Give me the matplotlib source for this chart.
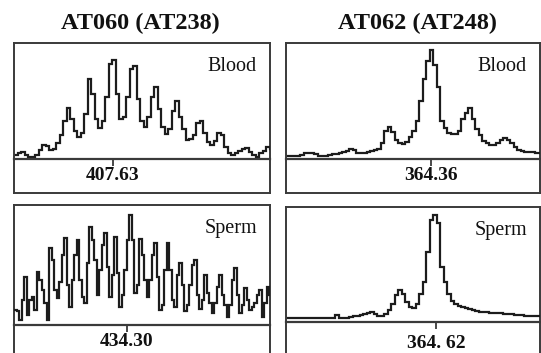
import numpy as np
import matplotlib
matplotlib.use("Agg")
import matplotlib.pyplot as plt

# ---------------- data (trace heights) ----------------
titles = ["AT060 (AT238)", "AT062 (AT248)"]
tissues = ["Blood", "Blood", "Sperm", "Sperm"]
size_labels = ["407.63", "364.36", "434.30", "364. 62"]

at060_blood = [4, 6, 7, 4, 2, 2, 4, 9, 14, 13, 9, 10, 16, 24, 38, 51, 40, 28, 22, 26,
               45, 80, 65, 40, 31, 38, 62, 95, 99, 65, 40, 42, 62, 90, 93, 60, 38, 32,
               42, 62, 72, 50, 32, 25, 30, 48, 58, 42, 30, 19, 20, 24, 36, 38, 26, 17,
               14, 18, 26, 24, 12, 6, 4, 6, 8, 10, 11, 7, 4, 2, 6, 8, 12, 10]

at062_blood = [3, 3, 3, 3, 4, 6, 6, 6, 5, 3, 3, 3, 4, 5, 5, 6, 7, 8, 10, 9, 6, 6, 6,
               7, 8, 9, 10, 16, 28, 32, 27, 19, 16, 15, 17, 22, 28, 38, 58, 80, 98, 109,
               94, 72, 38, 31, 26, 25, 25, 28, 40, 46, 51, 40, 30, 24, 18, 16, 14, 14,
               16, 19, 21, 19, 16, 12, 9, 8, 7, 7, 7, 6, 6]

at060_sperm = [15, 14, 5, 25, 48, 10, 25, 28, 15, 53, 45, 35, 22, 5, 77, 65, 35, 27,
               43, 70, 87, 40, 18, 45, 70, 85, 45, 28, 22, 62, 98, 85, 65, 30, 55, 80,
               92, 58, 28, 50, 88, 52, 18, 30, 55, 85, 110, 85, 32, 40, 86, 70, 45, 28,
               45, 70, 82, 48, 15, 20, 55, 82, 55, 25, 18, 50, 62, 40, 14, 20, 40, 60,
               65, 30, 16, 25, 50, 32, 22, 12, 22, 38, 50, 30, 20, 8, 20, 45, 57, 30,
               12, 20, 37, 25, 15, 18, 22, 30, 35, 8, 22, 38, 30]

at062_sperm = [4, 4, 4, 4, 4, 4, 4, 4, 4, 4, 4, 4, 4, 4, 7, 4, 4, 4, 5, 6, 6, 7, 8, 9,
               10, 8, 6, 6, 8, 12, 18, 27, 32, 28, 20, 15, 14, 18, 28, 40, 70, 102, 107,
               99, 55, 40, 28, 21, 18, 16, 15, 14, 13, 12, 11, 10, 10, 10, 9, 9, 9, 9,
               8, 8, 8, 7, 7, 7, 6, 6, 6, 6, 6]

series = [at060_blood, at062_blood, at060_sperm, at062_sperm]

# ---------------- layout (pixel geometry of the panels) ----------------
W, H = 541, 353
# (left, top, right, baseline, box_bottom, step_px, tick_px)
panels = [
    (14, 43, 270, 159, 193, 3.5, 113),
    (286, 43, 540, 159, 193, 3.5, 431),
    (14, 205, 270, 325, 362, 2.5, 127),
    (286, 207, 540, 322, 362, 3.5, 436),
]
label_offsets = [-16, -16, -17, -21]
title_pos = [(140, 23), (417, 23)]

serif = ["Liberation Serif", "DejaVu Serif"]
ink = "#1c1c1c"
frame = "#3a3a3a"


def frac(x0, y0, x1, y1):
    return [x0 / W, 1 - y1 / H, (x1 - x0) / W, (y1 - y0) / H]


fig = plt.figure(figsize=(W / 100, H / 100), dpi=100)

for k, (l, t, r, base, bot, step, tickpx) in enumerate(panels):
    box = fig.add_axes(frac(l, t, r, bot))
    box.set_xticks([])
    box.set_yticks([])
    for s in box.spines.values():
        s.set_linewidth(1.4)
        s.set_color(frame)

    tr = fig.add_axes(frac(l, t, r, base))
    tr.patch.set_alpha(0)
    y = np.array(series[k], dtype=float)
    x = np.arange(len(y))
    tr.step(x, y, where="mid", color=ink, lw=1.6, solid_joinstyle="miter")
    tr.set_xlim(-0.5, (r - l) / step - 0.5)
    tr.set_ylim(0, base - t)
    for side in ["top", "left", "right"]:
        tr.spines[side].set_visible(False)
    tr.spines["bottom"].set_linewidth(1.6)
    tr.spines["bottom"].set_color(frame)
    tick = (tickpx - l) / step - 0.5
    tr.set_xticks([tick])
    tr.set_xticklabels([""])
    tr.set_yticks([])
    tr.tick_params(axis="x", direction="out", length=5, width=1.3, color=frame)
    tr.annotate(size_labels[k], xy=(tick, 0), xycoords="data",
                xytext=(0, label_offsets[k]), textcoords="offset pixels",
                ha="center", va="center", fontsize=14, fontweight="bold",
                family=serif, color="#111")
    tr.text(1 - 13 / (r - l), 1 - 14 / (base - t), tissues[k],
            transform=tr.transAxes, ha="right", va="top", fontsize=14.5,
            family=serif, color="#111")

for (tx, ty), ttl in zip(title_pos, titles):
    fig.text(tx / W, 1 - ty / H, ttl, ha="center", va="center", fontsize=17.5,
             fontweight="bold", family=serif, color="#111")

fig.savefig("out.png", dpi=100)
